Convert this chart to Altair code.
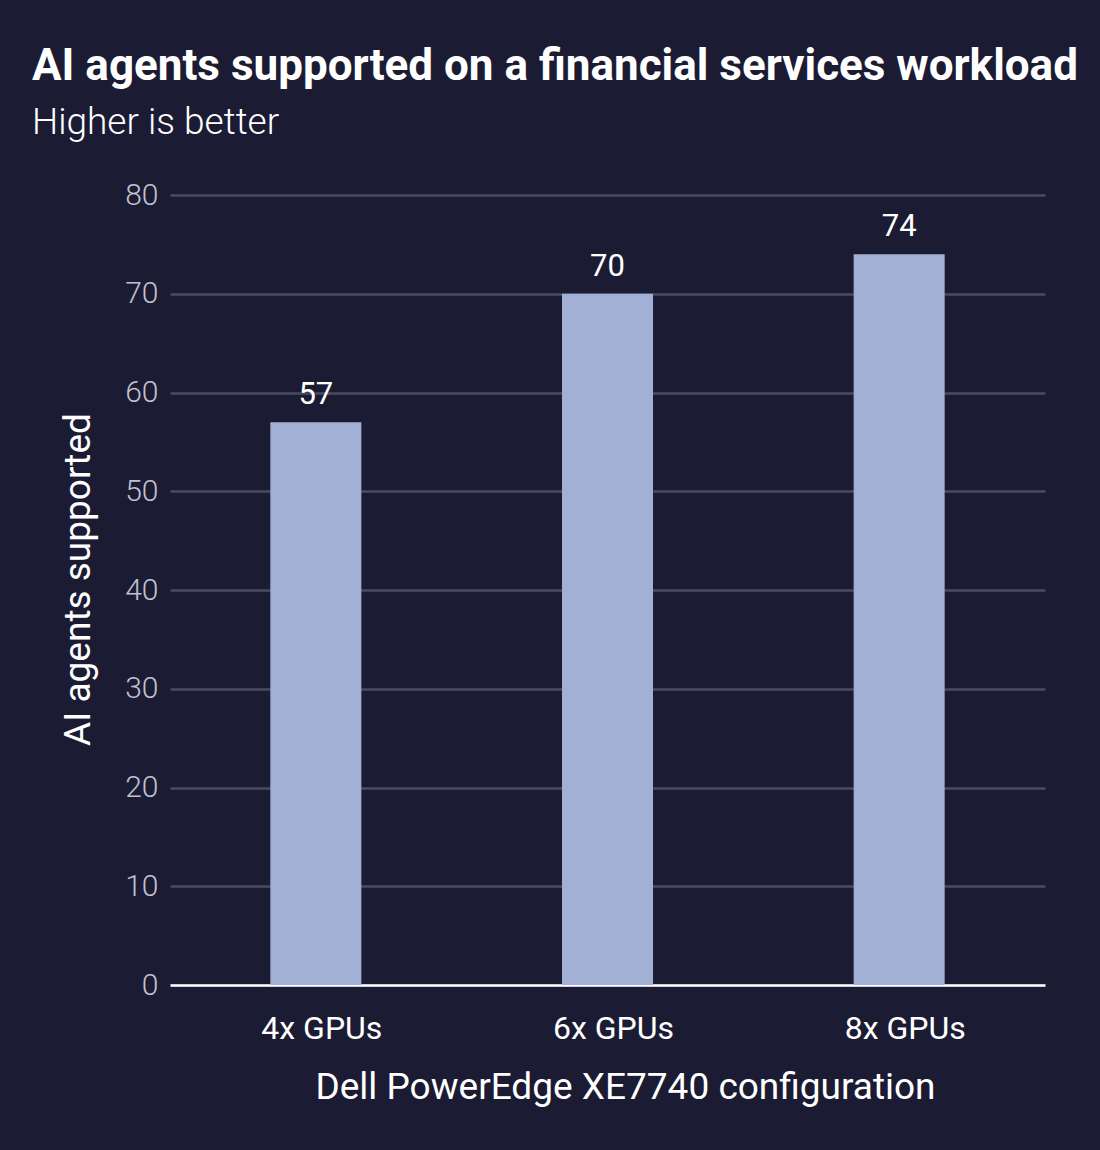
import altair as alt
import pandas as pd

configs = ["4x GPUs", "6x GPUs", "8x GPUs"]
agents = [57, 70, 74]

df = pd.DataFrame({"config": configs, "agents": agents})

BG = "#1b1c33"
BAR = "#a3b0d6"
FONT = "Roboto"

base = alt.Chart(df).encode(
    x=alt.X(
        "config:N",
        sort=configs,
        scale=alt.Scale(paddingInner=0, paddingOuter=0),
        axis=alt.Axis(
            title="Dell PowerEdge XE7740 configuration",
            labelAngle=0,
            labelFontSize=32,
            labelColor="#ffffff",
            labelPadding=28,
            labelOffset=6,
            ticks=False,
            domain=True,
            domainColor="#ffffff",
            domainWidth=2.5,
            grid=False,
            titleFontSize=37,
            titleFontWeight="normal",
            titleColor="#ffffff",
            titleX=455,
            titleY=102,
            titleAlign="center",
            titleBaseline="middle",
        ),
    ),
)

bars = base.mark_bar(color=BAR, size=91).encode(
    y=alt.Y(
        "agents:Q",
        scale=alt.Scale(domain=[0, 80]),
        axis=alt.Axis(
            title="AI agents supported",
            values=[0, 10, 20, 30, 40, 50, 60, 70, 80],
            labelFontSize=30,
            labelFontWeight=300,
            labelColor="#c0c2d2",
            labelPadding=12,
            ticks=False,
            domain=False,
            grid=True,
            gridColor="#4a4b63",
            gridWidth=2.5,
            titleFontSize=37,
            titleFontWeight="normal",
            titleColor="#ffffff",
            titleX=-92,
            titleY=384,
            titleAngle=-90,
            titleAlign="center",
            titleBaseline="middle",
        ),
    )
)

labels = base.mark_text(
    color="#ffffff", fontSize=31, baseline="alphabetic", dy=-18, font=FONT
).encode(
    y="agents:Q",
    text=alt.Text("agents:Q"),
)

chart = (
    (bars + labels)
    .properties(
        width=875,
        height=790,
        background=BG,
        padding={"left": 170, "top": 195, "right": 55, "bottom": 165},
        autosize=alt.AutoSizeParams(type="none"),
        title=alt.TitleParams(
            text="AI agents supported on a financial services workload",
            subtitle="Higher is better",
            anchor="start",
            frame="group",
            dx=-138,
            offset=39,
            fontSize=44,
            fontWeight="bold",
            color="#ffffff",
            subtitleFontSize=37,
            subtitleColor="#ffffff",
            subtitleFontWeight=300,
            subtitlePadding=16,
            font=FONT,
            subtitleFont=FONT,
        ),
    )
    .configure(font=FONT)
    .configure_view(stroke=None)
)

chart.save("out.html", embed_options={"renderer": "svg", "actions": False})
